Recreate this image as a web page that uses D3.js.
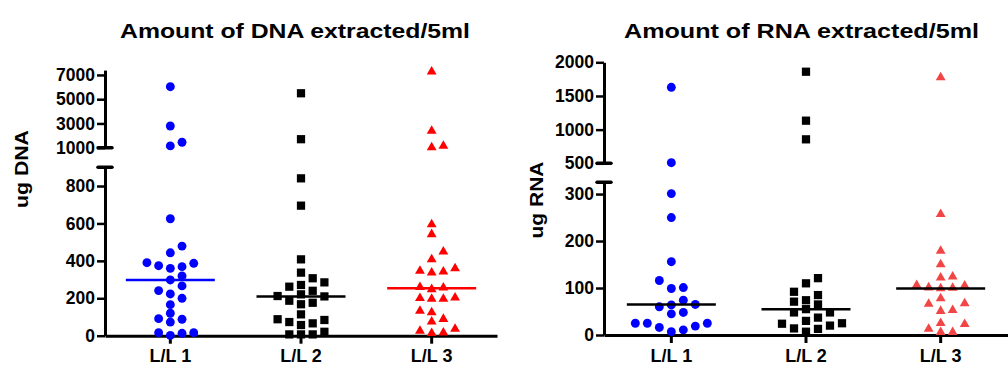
<!DOCTYPE html>
<html><head><meta charset="utf-8">
<script src="https://cdn.jsdelivr.net/npm/d3@7"></script>
<style>body{margin:0;background:#fff}text{font-family:"Liberation Sans",Arial,sans-serif;font-weight:bold}</style>
</head><body><svg id="c" width="1008" height="375"></svg>
<script>
const categories = ["L/L 1", "L/L 2", "L/L 3"];
const dnaLL1 = [6030, 2790, 1450, 1150, 625, 479, 443, 390, 387, 374, 369, 360, 319, 298, 266, 241, 223, 200, 166, 120, 91, 88, 73, 16, 16, 13, 2];
const dnaLL2 = [5490, 1700, 841, 695, 408, 337, 307, 285, 271, 262, 240, 221, 212, 210, 187, 176, 168, 114, 88, 84, 73, 66, 57, 21, 7, 7, 7];
const dnaLL3 = [7270, 2380, 1140, 1030, 595, 542, 449, 408, 360, 346, 342, 337, 259, 257, 248, 203, 200, 196, 196, 132, 125, 89, 75, 36, 25, 16, 13];
const dnaMedians = [298, 210, 253];
const rnaLL1 = [1629, 509, 301, 250, 156, 116, 101, 99, 74, 65, 64, 60, 48, 45, 25, 25, 25, 19, 16, 11, 7];
const rnaLL2 = [1860, 1133, 856, 121, 110, 92, 85, 74, 71, 65, 55, 48, 48, 37, 30, 25, 24, 20, 14, 13, 7];
const rnaLL3 = [1777, 257, 179, 150, 124, 122, 106, 105, 101, 100, 99, 78, 67, 66, 53, 51, 25, 23, 13, 6, 6];
const rnaMedians = [65, 55, 99];
const dnaTicksLow = [0, 200, 400, 600, 800];
const dnaTicksHigh = [1000, 3000, 5000, 7000];
const rnaTicksLow = [0, 100, 200, 300];
const rnaTicksHigh = [500, 1000, 1500, 2000];

const svg = d3.select("#c");

function chart(o) {
  const g = svg.append("g");
  const x = d3.scaleBand().domain(categories).range([o.x0, o.x1]).padding(0);
  const yLow = d3.scaleLinear().domain(o.lowDomain).range([o.yBottom, o.lowTop]);
  const yHigh = d3.scaleLinear().domain(o.highDomain).range([o.highBottom, o.highTop]);
  const y = v => v <= o.lowDomain[1] ? yLow(v) : yHigh(v);

  g.append("text").attr("x", o.titleX).attr("y", 37.5).attr("text-anchor", "middle")
    .attr("font-size", 20).attr("textLength", o.titleLen).attr("lengthAdjust", "spacingAndGlyphs").text(o.title);
  g.append("text").attr("transform", `translate(${o.ylabX},${o.ylabY}) rotate(-90)`)
    .attr("text-anchor", "middle").attr("dy", "0.35em").attr("font-size", 18)
    .attr("textLength", o.ylabLen).attr("lengthAdjust", "spacingAndGlyphs").text(o.ylab);

  function yax(scale, ticks) {
    const a = g.append("g").attr("transform", `translate(${o.x0},0)`)
      .call(d3.axisLeft(scale).tickValues(ticks).tickSize(8).tickSizeOuter(0).tickPadding(2).tickFormat(d3.format("d")));
    a.select(".domain").attr("stroke", "#000").attr("stroke-width", 3);
    a.selectAll(".tick line").attr("stroke", "#000").attr("stroke-width", 2.5);
    a.selectAll(".tick text").attr("fill", "#000").attr("font-size", 17.5).attr("font-family", "Liberation Sans, Arial, sans-serif").attr("font-weight", "bold");
    return a;
  }
  yax(yLow, o.ticksLow);
  yax(yHigh, o.ticksHigh);
  [yHigh(o.highDomain[0]), yLow(o.lowDomain[1])].forEach(yy => {
    g.append("line").attr("x1", o.x0 - 7).attr("x2", o.x0 + 7).attr("y1", yy).attr("y2", yy)
      .attr("stroke", "#000").attr("stroke-width", 3.5).attr("stroke-linecap", "round");
  });

  const xa = g.append("g").attr("transform", `translate(0,${o.yBottom})`)
    .call(d3.axisBottom(x).tickSize(8).tickSizeOuter(0).tickPadding(6));
  xa.select(".domain").attr("stroke", "#000").attr("stroke-width", 3);
  xa.selectAll(".tick line").attr("stroke", "#000").attr("stroke-width", 3);
  xa.selectAll(".tick text").attr("fill", "#000").attr("font-size", 18).attr("font-family", "Liberation Sans, Arial, sans-serif").attr("font-weight", "bold");

  const symbols = [d3.symbolCircle, d3.symbolSquare, d3.symbolTriangle];
  const sizes = [62, 68, 42];
  const spacing = o.spacing, gap = 8.6;
  o.series.forEach((vals, i) => {
    const cx = x(categories[i]) + x.bandwidth() / 2;
    const sorted = vals.slice().sort((a, b) => a - b);
    const placed = [];
    const order = [0, 1, -1, 2, -2, 3, -3, 4, -4];
    const pts = sorted.map(v => {
      const py = y(v);
      let slot = order.find(k => !placed.some(p => p.k === k && Math.abs(p.py - py) < gap));
      placed.push({k: slot, py});
      return {v, py, k: slot};
    });
    g.append("g").selectAll("path").data(pts).join("path")
      .attr("transform", d => `translate(${cx + d.k * spacing},${d.py})`)
      .attr("d", d3.symbol().type(symbols[i]).size(sizes[i]))
      .attr("fill", o.colors[i]);
    g.append("line").attr("x1", cx - 44.5).attr("x2", cx + 44.5)
      .attr("y1", y(o.medians[i])).attr("y2", y(o.medians[i]))
      .attr("stroke", o.medianColors[i]).attr("stroke-width", 2.5);
  });
}

chart({
  title: "Amount of DNA extracted/5ml", titleX: 295, titleLen: 350,
  ylab: "ug DNA", ylabX: 22, ylabY: 169, ylabLen: 78,
  x0: 105, x1: 497, yBottom: 335.7,
  lowDomain: [0, 900], lowTop: 167.3,
  highDomain: [1000, 7400], highBottom: 147.7, highTop: 70.1,
  ticksLow: dnaTicksLow, ticksHigh: dnaTicksHigh,
  series: [dnaLL1, dnaLL2, dnaLL3], medians: dnaMedians,
  colors: ["#0000ff", "#000000", "#ff0000"], medianColors: ["#0000ff", "#000000", "#ff0000"],
  spacing: 11.7
});
chart({
  title: "Amount of RNA extracted/5ml", titleX: 801.5, titleLen: 355,
  ylab: "ug RNA", ylabX: 537, ylabY: 200, ylabLen: 77,
  x0: 604, x1: 1008, yBottom: 335,
  lowDomain: [0, 325], lowTop: 182.3,
  highDomain: [500, 2000], highBottom: 163.3, highTop: 62.3,
  ticksLow: rnaTicksLow, ticksHigh: rnaTicksHigh,
  series: [rnaLL1, rnaLL2, rnaLL3], medians: rnaMedians,
  colors: ["#0000ff", "#000000", "#f24646"], medianColors: ["#000000", "#000000", "#000000"],
  spacing: 12
});
</script></body></html>
